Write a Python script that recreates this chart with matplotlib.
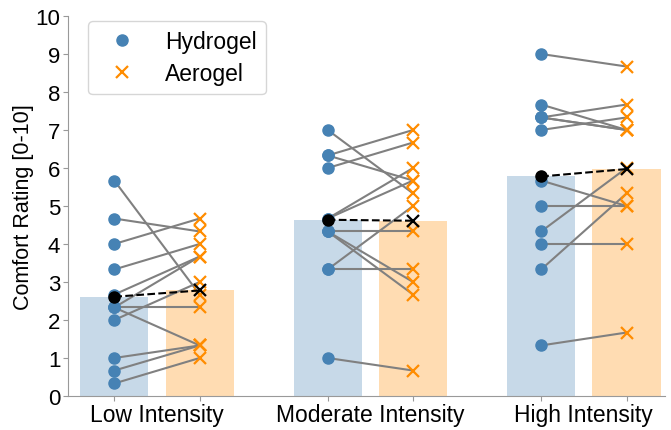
import numpy as np
import matplotlib.pyplot as plt

plt.rcParams['font.family'] = ['Liberation Sans', 'DejaVu Sans']

conditions = ["Low Intensity", "Moderate Intensity", "High Intensity"]

# per-participant ratings, paired by index (hydrogel -> aerogel)
low_hydrogel = [5.67, 4.67, 4.0, 3.33, 2.67, 2.33, 2.33, 2.33, 2.0, 1.0, 0.67, 0.33]
low_aerogel = [2.67, 4.33, 4.67, 4.0, 3.67, 3.67, 2.33, 1.33, 3.0, 1.33, 1.33, 1.0]

mod_hydrogel = [7.0, 6.33, 6.33, 6.0, 4.67, 4.67, 4.33, 4.33, 4.33, 3.33, 3.33, 1.0]
mod_aerogel = [5.33, 7.0, 5.67, 6.67, 6.0, 5.67, 4.33, 3.0, 2.67, 5.0, 3.33, 0.67]

high_hydrogel = [9.0, 7.67, 7.33, 7.33, 7.33, 7.0, 5.67, 5.0, 4.33, 4.0, 3.33, 1.33]
high_aerogel = [8.67, 7.0, 7.67, 7.0, 7.0, 7.33, 5.0, 5.0, 6.0, 4.0, 5.33, 1.67]

hydrogel = [low_hydrogel, mod_hydrogel, high_hydrogel]
aerogel = [low_aerogel, mod_aerogel, high_aerogel]

blue = 'steelblue'
orange = 'darkorange'
width = 0.32
off = 0.2

fig = plt.figure(figsize=(6.71, 4.31), dpi=100)
ax = fig.add_axes([0.1013, 0.0789, 0.8897, 0.8817])

for i in range(3):
    h = np.array(hydrogel[i])
    a = np.array(aerogel[i])
    xh, xa = i - off, i + off
    ax.bar(xh, h.mean(), width, color=blue, alpha=0.3, zorder=1)
    ax.bar(xa, a.mean(), width, color=orange, alpha=0.3, zorder=1)
    for hv, av in zip(h, a):
        ax.plot([xh, xa], [hv, av], color='gray', lw=1.5, zorder=2)
    ax.plot(np.full(len(h), xh), h, 'o', color=blue, ms=8, zorder=3,
            label='Hydrogel' if i == 0 else None)
    ax.plot(np.full(len(a), xa), a, 'x', color=orange, ms=8.5, mew=1.6, zorder=3,
            label='Aerogel' if i == 0 else None)
    # means
    ax.plot([xh, xa], [h.mean(), a.mean()], '--', color='black', lw=1.5, zorder=4)
    ax.plot(xh, h.mean(), 'o', color='black', ms=8, zorder=5)
    ax.plot(xa, a.mean(), 'x', color='black', ms=8.5, mew=1.6, zorder=5)

ax.set_xlim(-0.417, 2.38)
ax.set_ylim(0, 10)
ax.set_yticks(range(0, 11))

bar_pos = [i + s for i in range(3) for s in (-off, off)]
ax.set_xticks(bar_pos)
ax.set_xticklabels([])
ax.set_xticks(range(3), minor=True)
ax.set_xticklabels(conditions, minor=True)
ax.tick_params(axis='x', which='minor', length=0, labelsize=16.5, pad=5)
ax.tick_params(axis='x', which='major', length=3.5, color='#999999')
ax.tick_params(axis='y', labelsize=16, length=3.5, color='#999999', pad=2)

for s in ['top', 'right']:
    ax.spines[s].set_visible(False)
for s in ['left', 'bottom']:
    ax.spines[s].set_color('#999999')

ax.set_ylabel('Comfort Rating [0-10]', fontsize=15.5, labelpad=1)

ax.legend(loc='upper left', bbox_to_anchor=(0.0335, 0.987), borderaxespad=0,
          fontsize=16.5, borderpad=0.4, handlelength=2.2, handletextpad=0.75,
          labelspacing=0.4)

fig.savefig('out.png', dpi=100)
